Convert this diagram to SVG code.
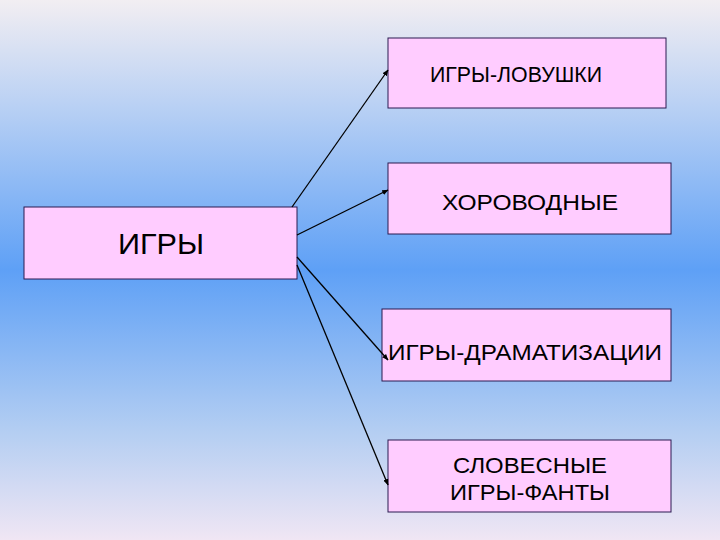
<svg xmlns="http://www.w3.org/2000/svg" width="720" height="540" viewBox="0 0 720 540">
<defs>
<linearGradient id="bg" x1="0" y1="0" x2="0" y2="1">
<stop offset="0" stop-color="#f2eef2"/>
<stop offset="0.2" stop-color="#b8d0f4"/>
<stop offset="0.5" stop-color="#5ea0f6"/>
<stop offset="0.8" stop-color="#b4cef2"/>
<stop offset="1" stop-color="#f0e6f4"/>
</linearGradient>
<marker id="ah" viewBox="0 0 10 10" refX="9" refY="5" markerWidth="5" markerHeight="5" orient="auto"><path d="M0,1 L10,5 L0,9 z" fill="#000"/></marker>
<style>
.box{fill:#ffccff;stroke:#2a1a50;stroke-width:1}
.t{font-family:"Liberation Sans",Arial,sans-serif;font-size:22px;fill:#000;text-anchor:middle}
.c{stroke:#000;stroke-width:1.3;fill:none;marker-end:url(#ah)}
</style>
</defs>
<rect width="720" height="540" fill="url(#bg)"/>
<g id="n0"><rect class="box" x="24" y="207" width="273" height="72"/><text x="118" y="254" class="t" style="font-size:30px;text-anchor:start" textLength="86" lengthAdjust="spacingAndGlyphs">ИГРЫ</text></g>
<g id="n1"><rect class="box" x="388" y="38" width="278" height="70"/><text x="516" y="82" class="t" textLength="172" lengthAdjust="spacingAndGlyphs">ИГРЫ-ЛОВУШКИ</text></g>
<g id="n2"><rect class="box" x="388" y="163" width="283" height="71"/><text x="530" y="210" class="t" textLength="176" lengthAdjust="spacingAndGlyphs">ХОРОВОДНЫЕ</text></g>
<g id="n3"><rect class="box" x="382" y="309" width="289" height="72"/><text x="525" y="360" class="t" textLength="274" lengthAdjust="spacingAndGlyphs">ИГРЫ-ДРАМАТИЗАЦИИ</text></g>
<g id="n4"><rect class="box" x="388" y="440" width="283" height="72"/><text x="530" y="473" class="t" textLength="154" lengthAdjust="spacingAndGlyphs">СЛОВЕСНЫЕ</text><text x="530" y="500" class="t" textLength="160" lengthAdjust="spacingAndGlyphs">ИГРЫ-ФАНТЫ</text></g>
<g id="connectors">
<line class="c" x1="292" y1="207" x2="388" y2="70"/>
<line class="c" x1="297" y1="235" x2="388" y2="190"/>
<line class="c" x1="297" y1="257" x2="388" y2="360"/>
<line class="c" x1="297" y1="265" x2="388" y2="485"/>
</g>
</svg>
